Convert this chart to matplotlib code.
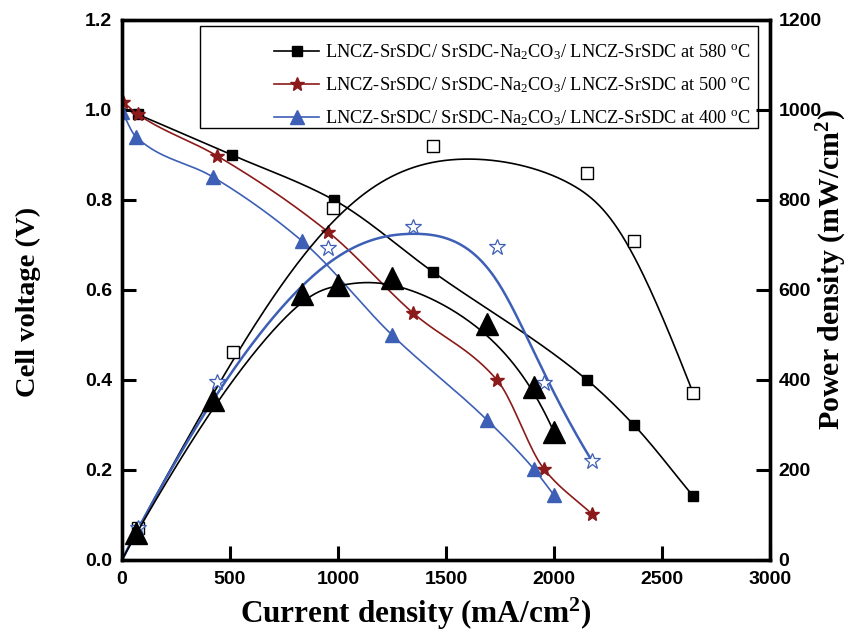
import numpy as np
import matplotlib
matplotlib.use('Agg')
import matplotlib.pyplot as plt
from matplotlib.lines import Line2D
from matplotlib.patches import Rectangle

# ── colours ───────────────────────────────────────────────
BLACK = '#000000'
RED   = '#8b1a1a'
BLUE  = '#3d5fb5'

plt.rcParams['mathtext.fontset'] = 'custom'
plt.rcParams['mathtext.rm'] = 'Liberation Serif'
plt.rcParams['mathtext.it'] = 'Liberation Serif:italic'
plt.rcParams['mathtext.bf'] = 'Liberation Serif:bold'

# ── data ──────────────────────────────────────────────────
# 580 C  (voltage: filled squares, power: open squares)
i_580 = [0, 74, 509, 981, 1440, 2153, 2370, 2644]
v_580 = [1.005, 0.99, 0.90, 0.80, 0.64, 0.40, 0.30, 0.142]
ip_580 = [74, 514, 977, 1440, 2153, 2370, 2644]
p_580 = [71, 462, 782, 920, 860, 709, 371]

# 500 C  (voltage: red stars, power: open blue stars)
i_500 = [5, 74, 440, 954, 1347, 1736, 1954, 2176]
v_500 = [1.018, 0.99, 0.898, 0.729, 0.549, 0.40, 0.202, 0.102]
ip_500 = [72, 440, 954, 1347, 1736, 1954, 2176]
p_500 = [70, 396, 693, 740, 696, 393, 220]

# 400 C  (voltage: blue triangles, power: big black triangles)
i_400 = [0, 65, 421, 833, 1250, 1690, 1907, 2000]
v_400 = [0.996, 0.94, 0.851, 0.709, 0.50, 0.311, 0.202, 0.144]
ip_400 = [65, 421, 833, 1000, 1250, 1690, 1907, 2000]
p_400 = [60, 356, 591, 611, 627, 524, 384, 284]

labels = [r'LNCZ-SrSDC/ SrSDC-Na$_2$CO$_3$/ LNCZ-SrSDC at 580 $^{\rm o}$C',
          r'LNCZ-SrSDC/ SrSDC-Na$_2$CO$_3$/ LNCZ-SrSDC at 500 $^{\rm o}$C',
          r'LNCZ-SrSDC/ SrSDC-Na$_2$CO$_3$/ LNCZ-SrSDC at 400 $^{\rm o}$C']


def pchip(x, y, n=200):
    # monotone cubic through the points (drawn line only)
    x = np.asarray(x, float); y = np.asarray(y, float)
    h = np.diff(x); d = np.diff(y) / h
    m = np.zeros_like(y)
    m[0], m[-1] = d[0], d[-1]
    for k in range(1, len(x) - 1):
        if d[k - 1] * d[k] > 0:
            w1 = 2 * h[k] + h[k - 1]
            w2 = h[k] + 2 * h[k - 1]
            m[k] = (w1 + w2) / (w1 / d[k - 1] + w2 / d[k])
    xs = np.linspace(x[0], x[-1], n)
    idx = np.clip(np.searchsorted(x, xs) - 1, 0, len(x) - 2)
    t = (xs - x[idx]) / h[idx]
    h00 = 2 * t**3 - 3 * t**2 + 1
    h10 = t**3 - 2 * t**2 + t
    h01 = -2 * t**3 + 3 * t**2
    h11 = t**3 - t**2
    ys = h00 * y[idx] + h10 * h[idx] * m[idx] + h01 * y[idx + 1] + h11 * h[idx] * m[idx + 1]
    return xs, ys


def bspline(px, py, n=400, k=3):
    # clamped cubic B-spline using the points as control points
    # (power curves start from the origin, P = 0 at I = 0)
    P = np.c_[np.r_[0, px], np.r_[0, py]].astype(float)
    nc = len(P)
    knots = np.r_[[0] * k, np.arange(nc - k + 1), [nc - k] * k].astype(float)
    t = np.linspace(0, nc - k, n)
    N = np.zeros((len(knots) - 1, n))
    for i in range(len(knots) - 1):
        N[i] = (knots[i] <= t) & (t < knots[i + 1])
    last = np.max(np.where(knots[:-1] < knots[1:])[0])
    N[last, -1] = 1
    for d in range(1, k + 1):
        Nn = np.zeros((len(knots) - 1 - d, n))
        for i in range(len(knots) - 1 - d):
            a = knots[i + d] - knots[i]
            b = knots[i + d + 1] - knots[i + 1]
            if a > 0:
                Nn[i] += (t - knots[i]) / a * N[i]
            if b > 0:
                Nn[i] += (knots[i + d + 1] - t) / b * N[i + 1]
        N = Nn
    C = N.T @ P
    return C[:, 0], C[:, 1]


fig = plt.figure(figsize=(8.48, 6.36), dpi=100)
ax = fig.add_axes([0.1439, 0.1195, 0.7641, 0.8491])
ax2 = ax.twinx()

# voltage curves
xs, ys = pchip(i_580, v_580)
ax.plot(xs, ys, color=BLACK, lw=1.2)
ax.plot(i_580[1:], v_580[1:], ls='none', marker='s', ms=7.2, color=BLACK)

xs, ys = pchip(i_500, v_500)
ax.plot(xs, ys, color=RED, lw=1.2)
ax.plot(i_500, v_500, ls='none', marker='*', ms=10.5, color=RED)

xs, ys = pchip(i_400, v_400)
ax.plot(xs, ys, color=BLUE, lw=1.2)
ax.plot(i_400, v_400, ls='none', marker='^', ms=9.5, color=BLUE)

# power curves
xs, ys = bspline(ip_580, p_580)
ax2.plot(xs, ys, color=BLACK, lw=1.2)
ax2.plot(ip_580, p_580, ls='none', marker='s', ms=8.5, mfc='white', mec=BLACK, mew=1.0)

xs, ys = bspline(ip_500, p_500)
ax2.plot(xs, ys, color=BLUE, lw=1.8)
ax2.plot(ip_500, p_500, ls='none', marker='*', ms=12, mfc='white', mec=BLUE, mew=0.9)

xs, ys = bspline(ip_400, p_400)
ax2.plot(xs, ys, color=BLACK, lw=1.2)
ax2.plot(ip_400, p_400, ls='none', marker='^', ms=15.5, color=BLACK)

# axes
ax.set_xlim(0, 3000)
ax.set_ylim(0, 1.2)
ax2.set_ylim(0, 1200)
ax.set_xticks(np.arange(0, 3001, 500))
ax.set_yticks(np.arange(0, 1.21, 0.2))
ax.set_yticklabels([f'{v:.1f}' for v in np.arange(0, 1.21, 0.2)])
ax2.set_yticks(np.arange(0, 1201, 200))

tick_font = dict(family='Liberation Sans', weight='bold', size=14)
for a in (ax, ax2):
    a.tick_params(direction='in', length=10, width=2.2)
    for lab in a.get_xticklabels() + a.get_yticklabels():
        lab.set_fontproperties(tick_font)
    for sp in a.spines.values():
        sp.set_linewidth(2.4)
ax.tick_params(axis='x', pad=8)
ax.tick_params(axis='y', pad=7)
ax2.tick_params(axis='y', pad=6)

fig.text(416 / 848, 1 - 614 / 636, r'Current density (mA/cm$^{\mathbf{2}}$)',
         family='Liberation Serif', weight='bold', size=22.5, ha='center', va='center')
fig.text(28 / 848, 1 - 302 / 636, 'Cell voltage (V)', rotation=90,
         family='Liberation Serif', weight='bold', size=20.5, ha='center', va='center')
fig.text(832 / 848, 1 - 270 / 636, r'Power density (mW/cm$^{\mathbf{2}}$)', rotation=90,
         family='Liberation Serif', weight='bold', size=21.5, ha='center', va='center')

# legend (frame drawn separately, wider than the entries)
handles = [Line2D([], [], color=BLACK, lw=1.2, marker='s', ms=7.2),
           Line2D([], [], color=RED, lw=1.2, marker='*', ms=10.5),
           Line2D([], [], color=BLUE, lw=1.2, marker='^', ms=9.5)]
leg = ax.legend(handles, labels, loc='upper right', bbox_to_anchor=(0.993, 0.985),
                prop=dict(family='Liberation Serif', size=13.2), frameon=False,
                handlelength=2.5, handletextpad=0.3, borderpad=0.3,
                labelspacing=0.72)

x0 = (200 - 122) / 648
x1 = (758 - 122) / 648
y0 = (560 - 128) / 540
y1 = (560 - 26) / 540
ax.add_patch(Rectangle((x0, y0), x1 - x0, y1 - y0, transform=ax.transAxes,
                       fill=False, lw=1.0, ec=BLACK, zorder=5))

fig.savefig('out.png', dpi=100)
